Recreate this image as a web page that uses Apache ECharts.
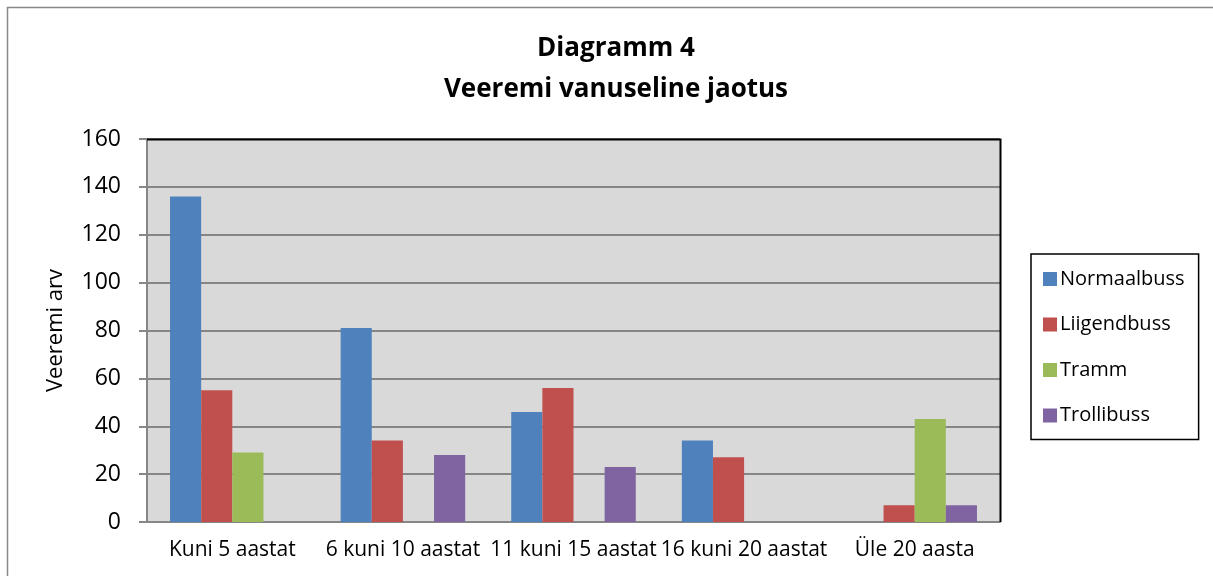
<!DOCTYPE html>
<html>
<head>
<meta charset="utf-8">
<script src="https://cdn.jsdelivr.net/npm/echarts@6/dist/echarts.min.js"></script>
<style>
  html, body { margin: 0; padding: 0; background: #fff; }
  #chart { width: 1213px; height: 576px; }
</style>
</head>
<body>
<div id="chart"></div>
<script>
// Chart data
const categories = ['Kuni 5 aastat', '6 kuni 10 aastat', '11 kuni 15 aastat', '16 kuni 20 aastat', 'Üle 20 aasta'];
const normaalbuss = [136, 81, 46, 34, null];
const liigendbuss = [55, 34, 56, 27, 7];
const tramm = [29, null, null, null, 43];
const trollibuss = [null, 28, 23, null, 7];
const yTicks = { min: 0, max: 160, interval: 20 };

const FONT = '"Open Sans", sans-serif';

const chart = echarts.init(document.getElementById('chart'));

function bar(name, data, color) {
  return {
    name,
    type: 'bar',
    data,
    barGap: '0%',
    barCategoryGap: '27%',
    itemStyle: { color }
  };
}

chart.setOption({
  animation: false,
  textStyle: { fontFamily: FONT },
  title: {
    text: 'Diagramm 4\nVeeremi vanuseline jaotus',
    left: 611,
    top: 23,
    textAlign: 'center',
    textStyle: { fontSize: 26, fontWeight: 'bold', color: '#000', lineHeight: 41, fontFamily: FONT }
  },
  graphic: [
    {
      type: 'rect',
      shape: { x: 7.5, y: 7.5, width: 1230, height: 600 },
      style: { fill: 'none', stroke: '#888', lineWidth: 1.5 },
      silent: true
    },
    {
      // top and right plot border
      type: 'polyline',
      shape: { points: [[147, 139.5], [1000.5, 139.5], [1000.5, 522]] },
      style: { fill: 'none', stroke: '#000', lineWidth: 2 },
      z: 10,
      silent: true
    }
  ],
  legend: {
    orient: 'vertical',
    left: 1031,
    top: 254,
    padding: [15, 14, 14, 12],
    itemGap: 25.5,
    itemWidth: 14,
    itemHeight: 14,
    icon: 'rect',
    borderColor: '#000',
    borderWidth: 1.5,
    textStyle: { fontSize: 20, color: '#000', fontFamily: FONT, padding: [0, 0, 0, -2] },
    data: ['Normaalbuss', 'Liigendbuss', 'Tramm', 'Trollibuss']
  },
  grid: {
    left: 147,
    top: 139,
    width: 853,
    height: 383,
    show: true,
    backgroundColor: '#d9d9d9',
    borderWidth: 0
  },
  xAxis: {
    type: 'category',
    data: categories,
    axisLine: { lineStyle: { color: '#868686', width: 2 } },
    axisTick: { show: false },
    axisLabel: { fontSize: 21, color: '#000', margin: 18, fontFamily: FONT, interval: 0 }
  },
  yAxis: {
    type: 'value',
    min: yTicks.min,
    max: yTicks.max,
    interval: yTicks.interval,
    name: 'Veeremi arv',
    nameLocation: 'middle',
    nameGap: 80,
    nameTextStyle: { fontSize: 22, color: '#000', fontFamily: FONT },
    axisLine: { show: true, lineStyle: { color: '#868686', width: 2 } },
    axisTick: { show: true, length: 8, lineStyle: { color: '#868686', width: 2 } },
    axisLabel: { fontSize: 23, color: '#000', margin: 26, fontFamily: FONT },
    splitLine: { lineStyle: { color: '#868686', width: 2 } }
  },
  series: [
    bar('Normaalbuss', normaalbuss, '#4f81bd'),
    bar('Liigendbuss', liigendbuss, '#c0504d'),
    bar('Tramm', tramm, '#9bbb59'),
    bar('Trollibuss', trollibuss, '#8064a2')
  ]
});
</script>
</body>
</html>
